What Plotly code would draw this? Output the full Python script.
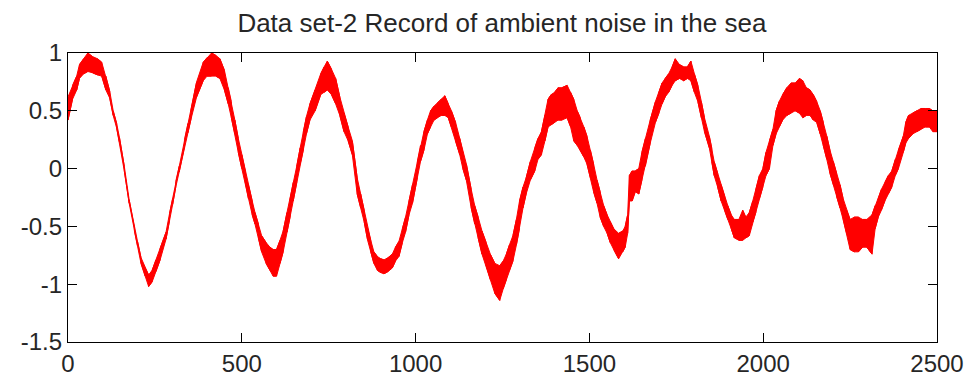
import plotly.graph_objects as go

# Sample index positions where the band of the noisy record was read
sample_x = [0, 13, 25, 33, 45, 57, 70, 85, 97, 109, 120, 130, 140, 148, 162, 176, 191, 200, 210, 222,
            232, 242, 253, 265, 282, 292, 301, 310, 320, 335, 345, 354, 370, 389, 400, 413, 425, 437, 450, 461,
            470, 480, 490, 500, 510, 519, 530, 538, 548, 557, 570, 581, 590, 600, 610, 619, 630, 639, 648, 658,
            668, 677, 686, 696, 711, 727, 737, 746, 758, 770, 782, 794, 806, 818, 832, 842, 852, 862, 871, 880,
            890, 900, 909, 921, 933, 942, 952, 962, 971, 981, 991, 1005, 1014, 1024, 1034, 1043, 1053, 1063, 1074, 1084,
            1094, 1103, 1115, 1127, 1136, 1146, 1160, 1170, 1180, 1191, 1203, 1215, 1228, 1242, 1252, 1261, 1270, 1280, 1290, 1299,
            1309, 1318, 1330, 1343, 1352, 1362, 1372, 1381, 1390, 1400, 1410, 1421, 1436, 1446, 1455, 1465, 1474, 1484, 1493, 1503,
            1512, 1522, 1531, 1541, 1551, 1560, 1570, 1584, 1596, 1603, 1610, 1615, 1623, 1632, 1642, 1651, 1661, 1675, 1690, 1700,
            1709, 1718, 1728, 1738, 1747, 1759, 1771, 1782, 1792, 1802, 1812, 1822, 1831, 1845, 1852, 1859, 1869, 1879, 1889, 1898,
            1908, 1917, 1930, 1941, 1950, 1960, 1970, 1979, 1989, 1999, 2008, 2018, 2028, 2037, 2046, 2056, 2068, 2080, 2092, 2104,
            2114, 2124, 2135, 2144, 2154, 2164, 2173, 2183, 2192, 2202, 2211, 2221, 2230, 2240, 2250, 2262, 2274, 2286, 2298, 2313,
            2322, 2331, 2340, 2350, 2360, 2370, 2380, 2389, 2403, 2410, 2418, 2430, 2442, 2454, 2466, 2478, 2488, 2500]

# Upper edge of the noise band at each sample position
upper = [0.62, 0.72, 0.80, 0.90, 0.95, 1.00, 0.97, 0.95, 0.92, 0.80, 0.67, 0.50, 0.39, 0.27, 0.02, -0.27, -0.51, -0.63, -0.77, -0.86,
         -0.92, -0.88, -0.79, -0.69, -0.55, -0.39, -0.26, -0.11, 0.02, 0.25, 0.39, 0.51, 0.75, 0.92, 0.96, 1.00, 0.98, 0.95, 0.85, 0.70,
         0.58, 0.42, 0.26, 0.12, -0.02, -0.14, -0.28, -0.38, -0.48, -0.58, -0.64, -0.68, -0.70, -0.70, -0.62, -0.54, -0.38, -0.26, -0.12, 0.02,
         0.18, 0.32, 0.45, 0.56, 0.68, 0.82, 0.88, 0.93, 0.86, 0.78, 0.62, 0.48, 0.36, 0.24, -0.08, -0.22, -0.36, -0.52, -0.62, -0.72,
         -0.76, -0.78, -0.79, -0.77, -0.74, -0.68, -0.63, -0.52, -0.42, -0.28, -0.14, 0.06, 0.20, 0.32, 0.42, 0.50, 0.54, 0.57, 0.60, 0.63,
         0.56, 0.50, 0.40, 0.26, 0.14, 0.04, -0.18, -0.32, -0.42, -0.54, -0.64, -0.74, -0.82, -0.84, -0.80, -0.74, -0.66, -0.58, -0.44, -0.28,
         -0.16, -0.08, 0.06, 0.18, 0.26, 0.32, 0.46, 0.60, 0.64, 0.66, 0.70, 0.70, 0.72, 0.66, 0.60, 0.50, 0.44, 0.36, 0.28, 0.16,
         0.04, -0.10, -0.20, -0.32, -0.40, -0.46, -0.52, -0.56, -0.54, -0.50, -0.40, -0.06, -0.02, -0.02, 0.00, 0.14, 0.26, 0.42, 0.58, 0.66,
         0.74, 0.78, 0.82, 0.88, 0.95, 0.90, 0.88, 0.88, 0.93, 0.82, 0.72, 0.58, 0.44, 0.28, 0.18, 0.06, -0.04, -0.14, -0.24, -0.32,
         -0.40, -0.44, -0.44, -0.36, -0.42, -0.38, -0.28, -0.18, -0.06, 0.00, 0.14, 0.24, 0.34, 0.50, 0.58, 0.64, 0.70, 0.74, 0.74, 0.78,
         0.76, 0.70, 0.68, 0.64, 0.58, 0.50, 0.40, 0.28, 0.16, 0.06, -0.04, -0.14, -0.26, -0.36, -0.44, -0.42, -0.42, -0.44, -0.44, -0.40,
         -0.32, -0.26, -0.18, -0.12, -0.06, -0.02, 0.08, 0.16, 0.28, 0.40, 0.46, 0.48, 0.50, 0.52, 0.52, 0.52, 0.50, 0.50]

# Lower edge of the noise band at each sample position
lower = [0.42, 0.60, 0.68, 0.78, 0.82, 0.84, 0.83, 0.81, 0.80, 0.68, 0.61, 0.46, 0.35, 0.23, -0.02, -0.30, -0.54, -0.67, -0.82, -0.93,
         -1.02, -0.98, -0.89, -0.79, -0.61, -0.45, -0.31, -0.16, -0.03, 0.19, 0.31, 0.43, 0.62, 0.76, 0.80, 0.80, 0.80, 0.78, 0.68, 0.56,
         0.44, 0.30, 0.14, 0.00, -0.12, -0.26, -0.40, -0.48, -0.60, -0.72, -0.82, -0.88, -0.93, -0.93, -0.82, -0.72, -0.55, -0.42, -0.28, -0.12,
         0.04, 0.16, 0.30, 0.42, 0.50, 0.64, 0.66, 0.68, 0.64, 0.56, 0.46, 0.32, 0.24, 0.12, -0.22, -0.34, -0.46, -0.62, -0.72, -0.82,
         -0.88, -0.90, -0.91, -0.89, -0.86, -0.80, -0.76, -0.64, -0.55, -0.40, -0.30, -0.08, 0.06, 0.16, 0.30, 0.36, 0.42, 0.44, 0.46, 0.46,
         0.44, 0.36, 0.24, 0.12, 0.00, -0.10, -0.34, -0.48, -0.60, -0.74, -0.84, -0.96, -1.08, -1.14, -1.04, -0.96, -0.88, -0.80, -0.66, -0.52,
         -0.34, -0.22, -0.10, -0.02, 0.08, 0.12, 0.24, 0.36, 0.38, 0.40, 0.42, 0.42, 0.44, 0.36, 0.24, 0.20, 0.16, 0.10, 0.04, -0.08,
         -0.20, -0.30, -0.42, -0.50, -0.56, -0.64, -0.70, -0.78, -0.72, -0.68, -0.56, -0.28, -0.28, -0.20, -0.22, -0.10, 0.02, 0.22, 0.40, 0.48,
         0.56, 0.62, 0.66, 0.72, 0.76, 0.78, 0.76, 0.78, 0.76, 0.66, 0.58, 0.44, 0.32, 0.18, 0.06, -0.06, -0.16, -0.28, -0.36, -0.44,
         -0.52, -0.60, -0.62, -0.62, -0.60, -0.58, -0.46, -0.38, -0.26, -0.16, -0.06, 0.00, 0.20, 0.30, 0.36, 0.42, 0.46, 0.48, 0.50, 0.48,
         0.44, 0.46, 0.46, 0.42, 0.40, 0.30, 0.20, 0.08, -0.04, -0.14, -0.24, -0.34, -0.44, -0.56, -0.70, -0.72, -0.72, -0.68, -0.68, -0.74,
         -0.52, -0.42, -0.36, -0.28, -0.22, -0.16, -0.06, 0.00, 0.14, 0.22, 0.26, 0.30, 0.32, 0.34, 0.36, 0.36, 0.32, 0.32]

x_ticks = [0, 500, 1000, 1500, 2000, 2500]
x_tick_labels = ["0", "500", "1000", "1500", "2000", "2500"]
y_ticks = [-1.5, -1, -0.5, 0, 0.5, 1]
y_tick_labels = ["-1.5", "-1", "-0.5", "0", "0.5", "1"]

title_text = "Data set-2 Record of ambient noise in the sea"

band_x = sample_x + sample_x[::-1]
band_y = upper + lower[::-1]

# the noisy strokes: run up and down through the band at every read position
stroke_x, stroke_y = [], []
for i, xv in enumerate(sample_x):
    if i % 2 == 0:
        stroke_x += [xv, xv]
        stroke_y += [upper[i], lower[i]]
    else:
        stroke_x += [xv, xv]
        stroke_y += [lower[i], upper[i]]

fig = go.Figure()
fig.add_trace(go.Scatter(
    x=band_x, y=band_y, mode="lines", fill="toself",
    fillcolor="#ff0000", line=dict(color="#ff0000", width=1),
    hoverinfo="skip", showlegend=False,
))
fig.add_trace(go.Scatter(
    x=stroke_x, y=stroke_y, mode="lines",
    line=dict(color="#ff0000", width=1),
    hoverinfo="skip", showlegend=False,
))

font_family = "Liberation Sans, Arial, sans-serif"
axis_common = dict(
    showgrid=False, zeroline=False, showline=True, linecolor="#000000", linewidth=1.3,
    mirror="ticks", ticks="inside", ticklen=9, tickwidth=1.3, tickcolor="#000000",
    tickfont=dict(family=font_family, size=24, color="#262626"), automargin=False,
)

fig.update_layout(
    width=967, height=381,
    margin=dict(l=68, r=30, t=53, b=39),
    paper_bgcolor="#ffffff", plot_bgcolor="#ffffff",
    title=dict(text=title_text, x=0.519, xanchor="center", y=0.94, yanchor="middle",
               font=dict(family=font_family, size=26, color="#262626")),
    xaxis=dict(range=[0, 2500], tickvals=x_ticks, ticktext=x_tick_labels, **axis_common),
    yaxis=dict(range=[-1.5, 1], tickvals=y_ticks, ticktext=y_tick_labels, **axis_common),
)

fig.write_html("out.html")
